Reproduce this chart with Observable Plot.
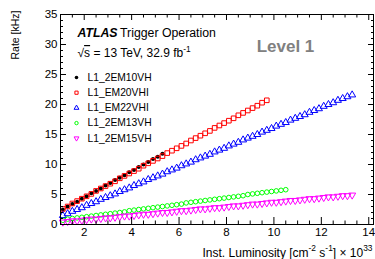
<!DOCTYPE html>
<html><head><meta charset="utf-8">
<script src="https://cdn.jsdelivr.net/npm/d3@7"></script>
<script src="https://cdn.jsdelivr.net/npm/@observablehq/plot@0.6"></script>
<style>
body{margin:0;background:#fff}
svg{display:block}
</style>
</head><body><div id="chart"></div>
<script>
// Instantaneous luminosity [1e33 cm^-2 s^-1]
const lumi = [1.1,1.3,1.5,1.7,1.9,2.1,2.3,2.5,2.7,2.9,3.1,3.3,3.5,3.7,3.9,4.1,4.3,4.5,4.7,4.9,
  5.1,5.3,5.5,5.7,5.9,6.1,6.3,6.5,6.7,6.9,7.1,7.3,7.5,7.7,7.9,8.1,8.3,8.5,8.7,8.9,
  9.1,9.3,9.5,9.7,9.9,10.1,10.3,10.5,10.7,10.9,11.1,11.3,11.5,11.7,11.9,12.1,12.3,12.5,12.7,12.9,13.1,13.3];

// Rates [kHz]
const rate_L1_2EM10VH = [2.5,3.0,3.4,3.8,4.3,4.7,5.2,5.6,6.0,6.5,6.9,7.4,7.8,8.2,8.7,9.1,9.6,10.0,10.4,10.9,11.3,11.8];
const rate_L1_EM20VHI = [2.6,3.0,3.5,3.9,4.3,4.7,5.1,5.6,6.0,6.4,6.8,7.2,7.7,8.1,8.5,8.9,9.3,9.8,10.2,10.6,
  11.0,11.4,11.9,12.3,12.7,13.1,13.5,14.0,14.4,14.8,15.2,15.6,16.1,16.5,16.9,17.3,17.7,18.2,18.6,19.0,
  19.4,19.8,20.3,20.7];
const rate_L1_EM22VHI = [1.5,1.8,2.2,2.5,2.8,3.2,3.5,3.8,4.2,4.5,4.8,5.1,5.5,5.8,6.1,6.5,6.8,7.1,7.5,7.8,
  8.1,8.4,8.8,9.1,9.4,9.8,10.1,10.4,10.8,11.1,11.4,11.7,12.1,12.4,12.7,13.1,13.4,13.7,14.1,14.4,
  14.7,15.0,15.4,15.7,16.0,16.4,16.7,17.0,17.4,17.7,18.0,18.3,18.7,19.0,19.3,19.7,20.0,20.3,20.7,21.0,21.3,21.6];
const rate_L1_2EM13VH = [0.7,0.9,1.0,1.1,1.2,1.3,1.4,1.5,1.6,1.7,1.8,1.9,2.0,2.1,2.3,2.4,2.5,2.6,2.7,2.8,
  2.9,3.0,3.1,3.2,3.3,3.4,3.6,3.7,3.8,3.9,4.0,4.1,4.2,4.3,4.4,4.5,4.6,4.7,4.8,5.0,
  5.1,5.2,5.3,5.4,5.5,5.6,5.7,5.8];
const rate_L1_2EM15VH = [0.4,0.5,0.6,0.6,0.7,0.8,0.9,0.9,1.0,1.1,1.1,1.2,1.3,1.4,1.4,1.5,1.6,1.7,1.7,1.8,
  1.9,2.0,2.0,2.1,2.2,2.3,2.3,2.4,2.5,2.6,2.6,2.7,2.8,2.8,2.9,3.0,3.1,3.1,3.2,3.3,
  3.4,3.4,3.5,3.6,3.7,3.7,3.8,3.9,4.0,4.0,4.1,4.2,4.3,4.3,4.4,4.5,4.6,4.6,4.7,4.8,4.8,4.9];

const seriesNames = ["L1_2EM10VH","L1_EM20VHI","L1_EM22VHI","L1_2EM13VH","L1_2EM15VH"];
const seriesRates = [rate_L1_2EM10VH, rate_L1_EM20VHI, rate_L1_EM22VHI, rate_L1_2EM13VH, rate_L1_2EM15VH];

const xMajor = [2,4,6,8,10,12,14];
const xMinor = [1.5,2.5,3,3.5,4.5,5,5.5,6.5,7,7.5,8.5,9,9.5,10.5,11,11.5,12.5,13,13.5];
const yMajor = [0,5,10,15,20,25,30,35];
const yMinor = [1,2,3,4,6,7,8,9,11,12,13,14,16,17,18,19,21,22,23,24,26,27,28,29,31,32,33,34];

const styles = [
  {symbol: "circle",   fill: "black",   stroke: "none",    rotate: 0,   r: 2.0, lr: 1.8},
  {symbol: "square",   fill: "none",    stroke: "#ff0000", rotate: 0,   r: 2.6, lr: 1.8},
  {symbol: "triangle", fill: "none",    stroke: "#0000ff", rotate: 0,   r: 2.6, lr: 1.8},
  {symbol: "circle",   fill: "none",    stroke: "#00ff00", rotate: 0,   r: 2.3, lr: 1.7},
  {symbol: "triangle", fill: "none",    stroke: "#ff00ff", rotate: 180, r: 2.6, lr: 1.8}
];

const rows = seriesNames.map((name, k) =>
  seriesRates[k].map((v, i) => ({name, lumi: lumi[i], rate: v})));

const FONT = "'Liberation Sans', Arial, Helvetica, sans-serif";

const dataMarks = rows.map((data, k) => Plot.dot(data, {
  x: "lumi", y: "rate", symbol: () => styles[k].symbol, r: styles[k].r,
  fill: styles[k].fill, stroke: styles[k].stroke, strokeWidth: 1, rotate: styles[k].rotate
}));

const legendMarks = seriesNames.flatMap((name, k) => [
  Plot.dot([name], {frameAnchor: "top-left", dx: 16, dy: 63 + k * 15.2,
    symbol: () => styles[k].symbol, r: styles[k].lr, fill: styles[k].fill,
    stroke: styles[k].stroke, strokeWidth: 1, rotate: styles[k].rotate}),
  Plot.text([name], {frameAnchor: "top-left", dx: 27, dy: 63 + k * 15.2, text: d => d,
    textAnchor: "start", lineAnchor: "middle", fontSize: 10.3, fill: "black"})
]);

const chart = Plot.plot({
  width: 375, height: 259,
  marginLeft: 60, marginRight: 2, marginTop: 14, marginBottom: 35,
  style: {fontFamily: FONT, fontSize: "11.5px", background: "white", color: "black", overflow: "visible"},
  x: {domain: [1, 14.2], label: null},
  y: {domain: [0, 35], label: null},
  symbol: {type: "identity"},
  marks: [
    ...dataMarks,
    Plot.frame({stroke: "black", strokeWidth: 1}),
    // bottom axis
    Plot.axisX(xMajor, {anchor: "bottom", tickSize: -7, tickPadding: 10, label: null, fontSize: 11.5}),
    Plot.axisX(xMinor, {anchor: "bottom", tickSize: -3.5, tickFormat: () => "", label: null}),
    // top axis
    Plot.axisX(xMajor, {anchor: "top", tickSize: -5, tickFormat: () => "", label: null}),
    Plot.axisX(xMinor, {anchor: "top", tickSize: -2.5, tickFormat: () => "", label: null}),
    // left axis
    Plot.axisY(yMajor, {anchor: "left", tickSize: -6, tickPadding: 9, label: null, fontSize: 11.5}),
    Plot.axisY(yMinor, {anchor: "left", tickSize: -3, tickFormat: () => "", label: null}),
    // right axis
    Plot.axisY(yMajor, {anchor: "right", tickSize: -6, tickFormat: () => "", label: null}),
    Plot.axisY(yMinor, {anchor: "right", tickSize: -3, tickFormat: () => "", label: null}),
    // axis titles
    Plot.text(["Rate [kHz]"], {frameAnchor: "top-left", dx: -45, dy: -4, rotate: -90,
      text: d => d, textAnchor: "end", lineAnchor: "middle", fontSize: 10.5}),
    Plot.text(["Inst. Luminosity [cm^{-2} s^{-1}] \u00d7 10^{33}"], {frameAnchor: "bottom-right", dx: -1, dy: 32,
      text: d => d, textAnchor: "end", lineAnchor: "bottom", fontSize: 12}),
    // annotations
    Plot.text(["ATLAS"], {frameAnchor: "top-left", dx: 17, dy: 22, text: d => d, textAnchor: "start",
      lineAnchor: "bottom", fontSize: 12.3, fontWeight: "bold", fontStyle: "italic"}),
    Plot.text(["Trigger Operation"], {frameAnchor: "top-left", dx: 59.5, dy: 22, text: d => d,
      textAnchor: "start", lineAnchor: "bottom", fontSize: 12.3}),
    Plot.text(["\u221A~{s} = 13 TeV, 32.9 fb^{-1}"], {frameAnchor: "top-left", dx: 17, dy: 42.5, text: d => d,
      textAnchor: "start", lineAnchor: "bottom", fontSize: 12}),
    Plot.text(["Level 1"], {frameAnchor: "top-right", dx: -88, dy: 37.7, text: d => d,
      textAnchor: "middle", lineAnchor: "bottom", fontSize: 17, fontWeight: "bold", fill: "#808080"}),
    ...legendMarks
  ]
});

// superscripts "^{...}" and overlines "~{...}" as tspans
d3.select(chart).selectAll("text").each(function() {
  const t = this.textContent;
  if (!t.includes("^{") && !t.includes("~{")) return;
  const el = d3.select(this);
  el.selectAll("*").remove();
  el.text(null);
  const parts = t.split(/([\^~])\{([^}]*)\}/);
  let raised = false;
  for (let i = 0; i < parts.length; i++) {
    const p = parts[i];
    if (i % 3 === 0) {
      if (p === "") continue;
      const ts = el.append("tspan").text(p);
      if (raised) { ts.attr("dy", "0.42em"); raised = false; }
    } else if (i % 3 === 1) {
      const body = parts[i + 1];
      i++;
      if (p === "^") {
        el.append("tspan").attr("font-size", "0.7em").attr("dy", "-0.6em").text(body);
        raised = true;
      } else {
        const ts = el.append("tspan").style("text-decoration", "overline").text(body);
        if (raised) { ts.attr("dy", "0.42em"); raised = false; }
      }
    }
  }
});

document.getElementById("chart").appendChild(chart);
</script>
</body></html>
